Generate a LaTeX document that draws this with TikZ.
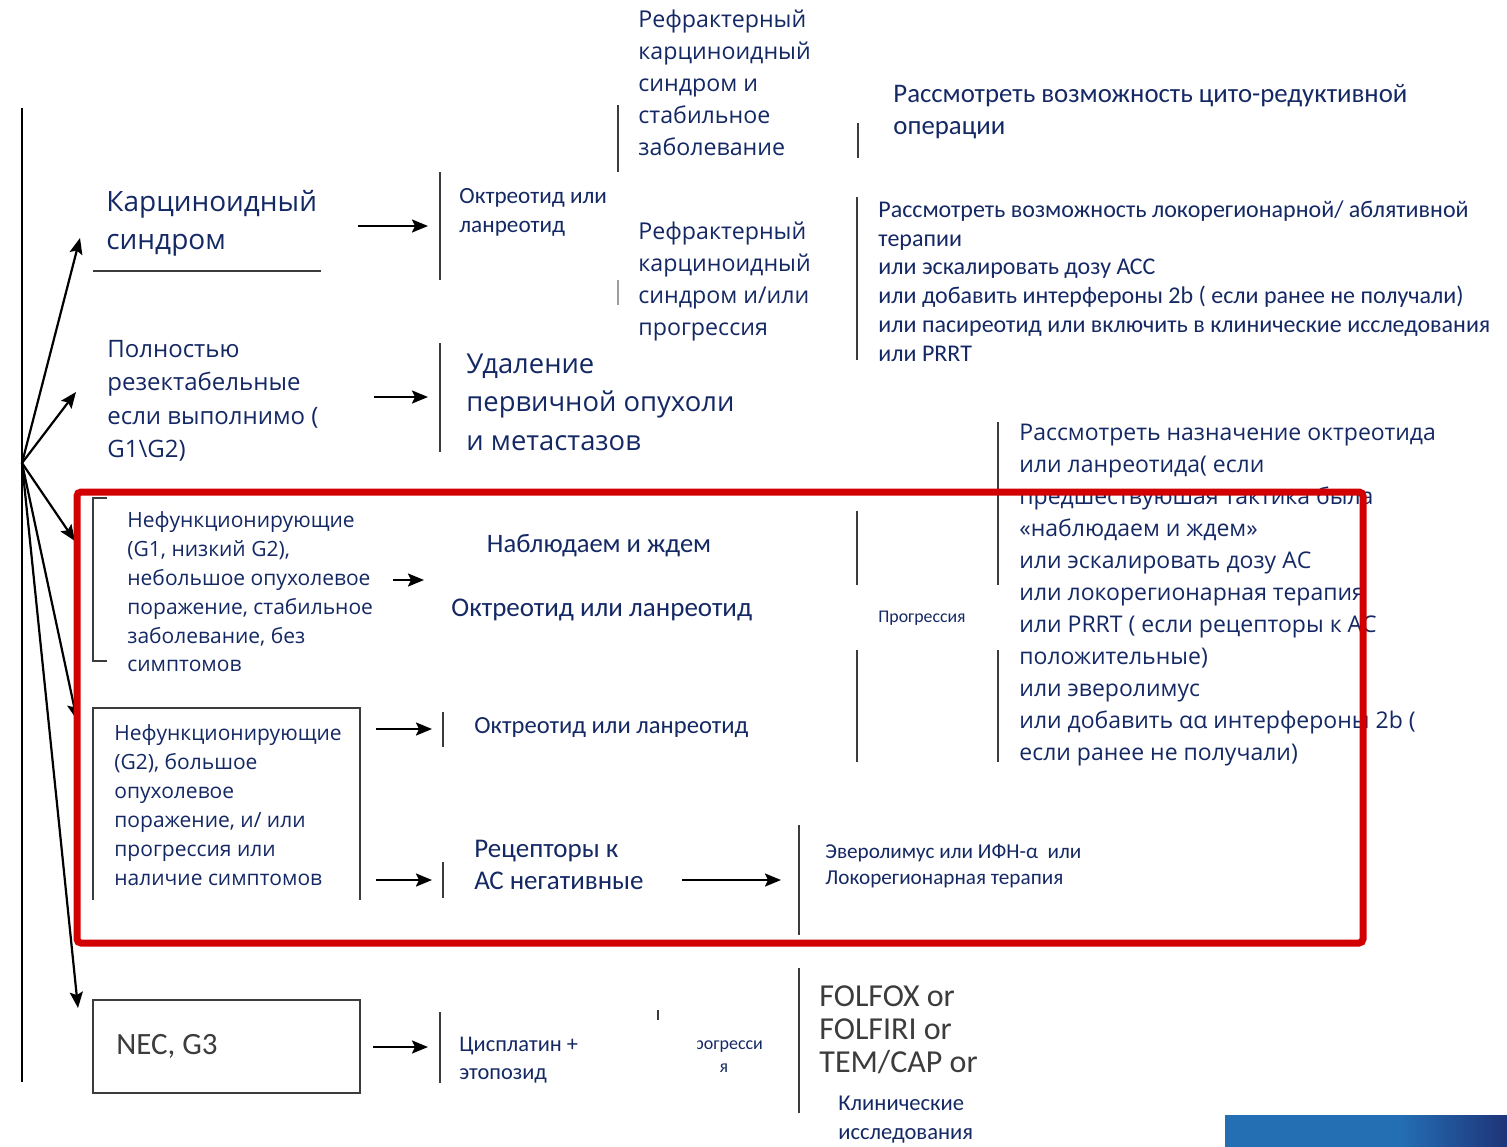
\documentclass[tikz,border=0pt]{standalone}
\usepackage{fontspec}
\setmainfont{Open Sans}
\newfontfamily\calfont{Carlito}
\usetikzlibrary{arrows.meta}
\definecolor{navy}{RGB}{20,40,100}
\definecolor{ink}{RGB}{60,60,60}
\definecolor{redframe}{RGB}{210,0,0}
\definecolor{barblue}{RGB}{36,110,180}
\definecolor{bardark}{RGB}{30,52,120}
\pgfdeclarehorizontalshading{bluebar}{100bp}{color(0bp)=(barblue); color(25bp)=(barblue); color(56bp)=(barblue); color(75bp)=(bardark); color(100bp)=(bardark)}

\begin{document}
\begin{tikzpicture}[x=0.5pt,y=-0.5pt,
  txt/.style={anchor=west,inner sep=0pt,align=left,text=navy},
  fs/.style 2 args={font=\fontsize{#1}{#2}\selectfont},
  cfs/.style 2 args={font=\calfont\fontsize{#1}{#2}\selectfont},
  bar/.style={draw=ink,line width=1pt},
  arr/.style={-{Stealth[length=8pt,width=6.5pt,inset=1.5pt]},line width=1.1pt}]

\useasboundingbox (0,0) rectangle (1507,1146);

\node[txt,fs={14}{19}] (karz) at (106,223) {Карциноидный\\синдром};
\node[txt,fs={12}{16.7}] (poln) at (107,401) {Полностью\\резектабельные\\если выполнимо (\\G1\textbackslash G2)};
\node[txt,fs={10.5}{14.4}] (nef1) at (127,592) {Нефункционирующие\\(G1, низкий G2),\\небольшое опухолевое\\поражение, стабильное\\заболевание, без\\симптомов};
\node[txt,fs={10.5}{14.5}] (nef2) at (114,805) {Нефункционирующие\\(G2), большое\\опухолевое\\поражение, и/ или\\прогрессия или\\наличие симптомов};
\node[txt,cfs={15.5}{18},text=ink] (nec) at (116,1046) {NEC, G3};

\node[txt,cfs={11.6}{14.5}] (oktr1) at (459,212) {Октреотид или\\ланреотид};
\node[txt,fs={13.7}{19.3}] (udal) at (466,402) {Удаление\\первичной опухоли\\и метастазов};
\node[txt,cfs={13.3}{16},anchor=center] (nabl) at (599,546) {Наблюдаем и ждем};
\node[txt,cfs={13.5}{16}] (oktr2) at (451,610) {Октреотид или ланреотид};
\node[txt,cfs={12.3}{14}] (oktr3) at (474,728) {Октреотид или ланреотид};
\node[txt,cfs={13.5}{16}] (recep) at (474,865) {Рецепторы к\\АС негативные};
\node[txt,cfs={11.2}{14}] (cisp) at (459,1060) {Цисплатин +\\этопозид};

\node[txt,fs={11.6}{16}] (refr1) at (638,83) {Рефрактерный\\карциноидный\\синдром и\\стабильное\\заболевание};
\node[txt,fs={11.6}{16}] (refr2) at (638,281) {Рефрактерный\\карциноидный\\синдром и/или\\прогрессия};
\node[txt,cfs={8.9}{10}] (progr) at (878,618) {Прогрессия};
\begin{scope}
  \clip (697,1025) rectangle (790,1085);
  \node[txt,cfs={9}{11.5},anchor=center,align=center] (progr2) at (724,1057) {прогресси\\я};
\end{scope}
\node[txt,cfs={10.6}{13}] (ever) at (825,866) {Эверолимус или ИФН-α\ \ или\\Локорегионарная терапия};
\node[txt,cfs={16}{16.5},text=ink] (folf) at (819,1030) {FOLFOX or\\FOLFIRI or\\TEM/CAP or};
\node[txt,cfs={11.3}{14.5}] (klin) at (838,1120) {Клинические\\исследования};

\node[txt,cfs={13.4}{16}] (cyto) at (893,112) {Рассмотреть возможность цито-редуктивной\\операции};
\node[txt,cfs={12}{14.4}] (loco) at (878,281) {Рассмотреть возможность локорегионарной/ аблятивной\\терапии\\или эскалировать дозу АСС\\или добавить интерфероны 2b ( если ранее не получали)\\или пасиреотид или включить в клинические исследования\\или PRRT};
\node[txt,fs={11.5}{16}] (rassm) at (1019,595) {Рассмотреть назначение октреотида\\или ланреотида( если\\предшествуюшая тактика была\\«наблюдаем и ждем»\\или эскалировать дозу АС\\или локорегионарная терапия\\или PRRT ( если рецепторы к АС\\положительные)\\или эверолимус\\или добавить αα интерфероны 2b (\\если ранее не получали)};

\coordinate (top) at (22,108);
\coordinate (bot) at (22,1082);
\coordinate (fan) at (22,463);
\draw[line width=1pt] (top) -- (bot);
\coordinate (f1) at (80,238);
\coordinate (f2) at (76,392);
\coordinate (f3) at (75,541);
\coordinate (f4) at (77,720);
\coordinate (f5) at (78,1008);
\foreach \t in {f1,f2,f3,f4,f5}
  \draw[arr] (fan) -- (\t);

\draw[bar] (93,271) -- (321,271);
\draw[bar] (107,498) -- (93,498) -- (93,661) -- (107,661);
\draw[bar] (93,900) -- (93,708) -- (360,708) -- (360,900);
\draw[bar,line width=1.3pt] (93,1000) rectangle (360,1093);

\draw[bar] (440,172) -- (440,280);
\draw[bar] (440,343) -- (440,452);
\draw[bar] (443,712) -- (443,747);
\draw[bar] (443,862) -- (443,898);
\draw[bar] (440,1012) -- (440,1083);
\draw[bar] (618,105) -- (618,172);
\draw[bar,draw=ink!50] (618,280) -- (618,305);
\draw[bar,line width=1.4pt] (858,123) -- (858,158);
\draw[bar] (857,197) -- (857,360);
\draw[bar] (857,511) -- (857,585);
\draw[bar] (857,650) -- (857,762);
\draw[bar] (998,422) -- (998,585);
\draw[bar] (998,650) -- (998,762);
\draw[bar] (799,825) -- (799,935);
\draw[bar] (799,968) -- (799,1113);
\draw[bar] (658,1010) -- (658,1020);

\coordinate (a1) at (358,226);  \coordinate (b1) at (428,226);
\coordinate (a2) at (374,397);  \coordinate (b2) at (428,397);
\coordinate (a3) at (393,580);  \coordinate (b3) at (424,580);
\coordinate (a4) at (376,729);  \coordinate (b4) at (432,729);
\coordinate (a5) at (376,880);  \coordinate (b5) at (432,880);
\coordinate (a6) at (682,880);  \coordinate (b6) at (781,880);
\coordinate (a7) at (373,1047); \coordinate (b7) at (428,1047);
\foreach \i in {1,...,7}
  \draw[arr] (a\i) -- (b\i);

\draw[redframe,line width=3.5pt,rounded corners=2pt] (77,492) rectangle (1363,943);

\shade[shading=bluebar] (1225,1115) rectangle (1507,1146);
\end{tikzpicture}
\end{document}
